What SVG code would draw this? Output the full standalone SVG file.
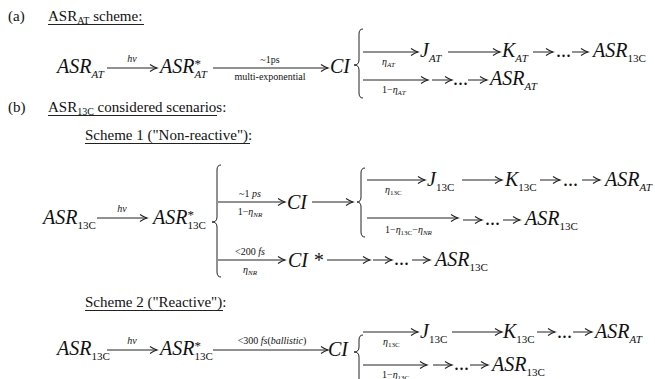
<svg xmlns="http://www.w3.org/2000/svg" width="655" height="379" viewBox="0 0 655 379">
<defs>
<style>
text{font-family:"Liberation Serif","Times New Roman",serif;fill:#111}
.big{font-style:italic;font-size:20px}
.sub{font-size:11px}
.up{font-style:normal}
.star{font-size:13px;font-style:normal}
.lbl{font-size:10px}
.it{font-style:italic}
.hdr{font-size:15px}
.arr{stroke:#222;stroke-width:1;fill:none;marker-end:url(#ah)}
.brace{stroke:#222;stroke-width:1;fill:none}
.ul{stroke:#222;stroke-width:1}
</style>
<marker id="ah" markerWidth="10" markerHeight="10" refX="8" refY="4" orient="auto" markerUnits="userSpaceOnUse">
<path d="M1,0.5 Q5,3.2 8,4 Q5,4.8 1,7.5" fill="none" stroke="#222" stroke-width="1.1"/>
</marker>
</defs>
<rect width="655" height="379" fill="#fff"/>

<g id="headers">
<text class="hdr" x="8" y="21">(a)</text>
<text class="hdr" x="48" y="21">ASR<tspan font-size="10" dy="3">AT</tspan><tspan dy="-3"> scheme:</tspan></text>
<line class="ul" x1="48" y1="24.5" x2="144" y2="24.5"/>
<text class="hdr" x="8" y="112">(b)</text>
<text class="hdr" x="48" y="112">ASR<tspan font-size="10" dy="3">13C</tspan><tspan dy="-3"> considered scenarios:</tspan></text>
<line class="ul" x1="48" y1="115.5" x2="217" y2="115.5"/>
<text class="hdr" x="85" y="140">Scheme 1 ("Non-reactive"):</text>
<line class="ul" x1="85" y1="143.5" x2="250" y2="143.5"/>
<text class="hdr" x="85" y="307">Scheme 2 ("Reactive"):</text>
<line class="ul" x1="85" y1="310.5" x2="223" y2="310.5"/>
</g>

<g id="connectors">
<path class="arr" d="M107 68H157"/>
<path class="arr" d="M213 68H328"/>
<path class="brace" d="M363 29Q359 29 359 34V60Q359 65 354 65Q359 65 359 70V93Q359 98 363 98"/>
<path class="arr" d="M363 52H418"/>
<path class="arr" d="M448 52H500"/>
<path class="arr" d="M533 52H553"/>
<path class="arr" d="M572 52H588"/>
<path class="arr" d="M363 80H428"/>
<path class="arr" d="M432 80H452"/>
<path class="arr" d="M468 80H487"/>
<path class="arr" d="M97 218H147"/>
<path class="brace" d="M221 165Q217 165 217 170V217Q217 222 212 222Q217 222 217 227V272Q217 277 221 277"/>
<path class="arr" d="M218 202H285"/>
<path class="arr" d="M312 202H353"/>
<path class="brace" d="M365 168Q361 168 361 173V197Q361 202 357 202Q361 202 361 207V232Q361 237 365 237"/>
<path class="arr" d="M367 180H425"/>
<path class="arr" d="M462 180H502"/>
<path class="arr" d="M540 180H560"/>
<path class="arr" d="M582 180H600"/>
<path class="arr" d="M367 218H458"/>
<path class="arr" d="M463 220H482"/>
<path class="arr" d="M503 220H520"/>
<path class="arr" d="M218 260H285"/>
<path class="arr" d="M327 260H370"/>
<path class="arr" d="M373 260H392"/>
<path class="arr" d="M412 260H430"/>
<path class="arr" d="M107 350H157"/>
<path class="arr" d="M213 350H328"/>
<path class="brace" d="M363 335Q359 335 359 340V347Q359 352 354 352Q359 352 359 357V390"/>
<path class="arr" d="M363 332H418"/>
<path class="arr" d="M452 332H502"/>
<path class="arr" d="M537 332H555"/>
<path class="arr" d="M573 332H592"/>
<path class="arr" d="M363 365H427"/>
<path class="arr" d="M433 365H452"/>
<path class="arr" d="M470 365H488"/>
</g>

<g id="arrow-labels">
<text class="lbl it" x="132" y="62" text-anchor="middle">hν</text>
<text class="lbl" x="270" y="63" text-anchor="middle">~1ps</text>
<text class="lbl" x="270" y="80" text-anchor="middle" font-size="11">multi-exponential</text>
<text class="lbl it" x="382" y="65">η<tspan font-size="7" dy="2">AT</tspan></text>
<text class="lbl" x="382" y="93">1−<tspan class="it">η</tspan><tspan class="it" font-size="7" dy="2">AT</tspan></text>
<text class="lbl it" x="122" y="212" text-anchor="middle">hν</text>
<text class="lbl" x="250" y="197" text-anchor="middle">~1 <tspan class="it">ps</tspan></text>
<text class="lbl" x="250" y="215" text-anchor="middle">1−<tspan class="it">η</tspan><tspan class="it" font-size="7" dy="2">NR</tspan></text>
<text class="lbl it" x="385" y="193">η<tspan font-size="7" dy="2" class="up">13C</tspan></text>
<text class="lbl" x="385" y="233" font-size="9">1−<tspan class="it">η</tspan><tspan font-size="7" dy="2">13C</tspan><tspan dy="-2">−</tspan><tspan class="it">η</tspan><tspan class="it" font-size="7" dy="2">NR</tspan></text>
<text class="lbl" x="250" y="255" text-anchor="middle">&lt;200 <tspan class="it">fs</tspan></text>
<text class="lbl it" x="250" y="273" text-anchor="middle">η<tspan font-size="7" dy="2">NR</tspan></text>
<text class="lbl it" x="132" y="344" text-anchor="middle">hν</text>
<text class="lbl" x="272" y="344" text-anchor="middle">&lt;300 <tspan class="it">fs</tspan>(<tspan class="it">ballistic</tspan>)</text>
<text class="lbl it" x="383" y="345">η<tspan font-size="7" dy="2" class="up">13C</tspan></text>
<text class="lbl" x="382" y="378">1−<tspan class="it">η</tspan><tspan font-size="7" dy="2">13C</tspan></text>
</g>

<g id="a-asr-at"><text class="big" x="57" y="73">ASR<tspan class="sub" dy="5">AT</tspan></text></g>
<g id="a-asr-at-star"><text class="big" x="160" y="73">ASR<tspan class="star" dy="-5">*</tspan><tspan class="sub" dx="-6.5" dy="10">AT</tspan></text></g>
<g id="a-ci"><text class="big" x="330" y="73">CI</text></g>
<g id="a-j-at"><text class="big" x="420" y="57">J<tspan class="sub" dy="5">AT</tspan></text></g>
<g id="a-k-at"><text class="big" x="502" y="57">K<tspan class="sub" dy="5">AT</tspan></text></g>
<g id="a-dots1"><text class="big up" x="556" y="57">...</text></g>
<g id="a-asr-13c"><text class="big" x="593" y="57">ASR<tspan class="sub up" dy="5">13C</tspan></text></g>
<g id="a-dots2"><text class="big up" x="453" y="85">...</text></g>
<g id="a-asr-at-end"><text class="big" x="490" y="85">ASR<tspan class="sub" dy="5">AT</tspan></text></g>

<g id="s1-asr-13c"><text class="big" x="43" y="224">ASR<tspan class="sub up" dy="5">13C</tspan></text></g>
<g id="s1-asr-13c-star"><text class="big" x="153" y="224">ASR<tspan class="star" dy="-5">*</tspan><tspan class="sub up" dx="-6.5" dy="10">13C</tspan></text></g>
<g id="s1-ci"><text class="big" x="287" y="209">CI</text></g>
<g id="s1-j-13c"><text class="big" x="427" y="186">J<tspan class="sub up" dy="5">13C</tspan></text></g>
<g id="s1-k-13c"><text class="big" x="505" y="186">K<tspan class="sub up" dy="5">13C</tspan></text></g>
<g id="s1-dots1"><text class="big up" x="563" y="186">...</text></g>
<g id="s1-asr-at"><text class="big" x="605" y="186">ASR<tspan class="sub" dy="5">AT</tspan></text></g>
<g id="s1-dots2"><text class="big up" x="485" y="225">...</text></g>
<g id="s1-asr-13c-b"><text class="big" x="525" y="225">ASR<tspan class="sub up" dy="5">13C</tspan></text></g>
<g id="s1-ci-star"><text class="big" x="288" y="267">CI *</text></g>
<g id="s1-dots3"><text class="big up" x="394" y="265">...</text></g>
<g id="s1-asr-13c-c"><text class="big" x="435" y="266">ASR<tspan class="sub up" dy="5">13C</tspan></text></g>

<g id="s2-asr-13c"><text class="big" x="57" y="355">ASR<tspan class="sub up" dy="5">13C</tspan></text></g>
<g id="s2-asr-13c-star"><text class="big" x="160" y="355">ASR<tspan class="star" dy="-5">*</tspan><tspan class="sub up" dx="-6.5" dy="10">13C</tspan></text></g>
<g id="s2-ci"><text class="big" x="328" y="356">CI</text></g>
<g id="s2-j-13c"><text class="big" x="420" y="338">J<tspan class="sub up" dy="5">13C</tspan></text></g>
<g id="s2-k-13c"><text class="big" x="503" y="338">K<tspan class="sub up" dy="5">13C</tspan></text></g>
<g id="s2-dots1"><text class="big up" x="557" y="338">...</text></g>
<g id="s2-asr-at"><text class="big" x="595" y="338">ASR<tspan class="sub" dy="5">AT</tspan></text></g>
<g id="s2-dots2"><text class="big up" x="454" y="370">...</text></g>
<g id="s2-asr-13c-b"><text class="big" x="492" y="371">ASR<tspan class="sub up" dy="5">13C</tspan></text></g>
</svg>
